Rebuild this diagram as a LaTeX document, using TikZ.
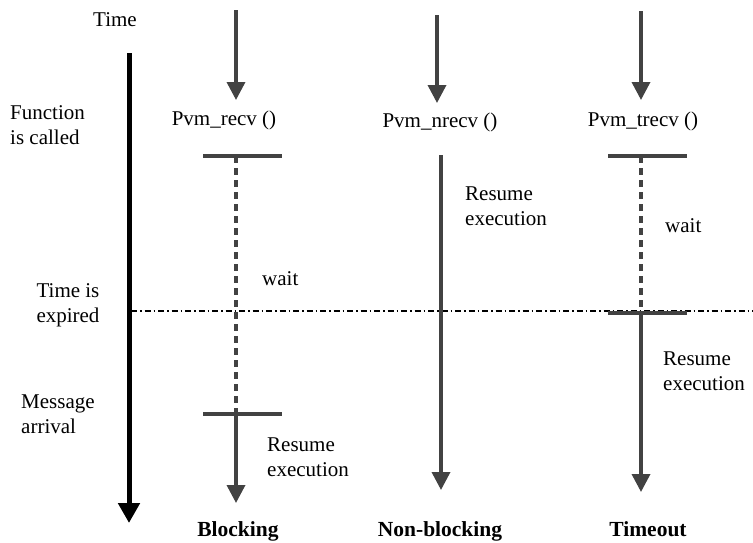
\documentclass[tikz,border=0pt]{standalone}
\usepackage{fontspec}
\setmainfont{Liberation Serif}
\usetikzlibrary{arrows.meta,positioning}
\definecolor{flowgray}{RGB}{66,66,66}

\begin{document}
\begin{tikzpicture}[
    x=1pt,
    y=-1pt,
    every node/.style={font=\fontsize{21}{25}\selectfont,inner sep=0pt},
    flow/.style={draw=flowgray,line width=3.5pt},
    flowarrow/.style={flow,-{Triangle[length=18pt,width=18pt]}},
    waitline/.style={flow,dash pattern=on 7pt off 5pt},
    gatebar/.style={flow},
    note/.style={align=left,anchor=north west},
    caption/.style={anchor=base,font=\fontsize{21.5}{25}\selectfont\bfseries}
]
  \useasboundingbox (0,0) rectangle (753,542);

  % time axis
  \node[anchor=base] (time) at (115,26) {Time};
  \coordinate (axtop) at (129,53);
  \coordinate (axbot) at (129,523);
  \draw[line width=5pt,-{Triangle[length=20pt,width=21pt]}] (axtop) -- (axbot);
  \node[note] (called) at (10,105) {Function\\is called};
  \node[align=center,anchor=north] (expired) at (68,283) {Time is\\expired};
  \node[note] (arrival) at (21,395) {Message\\arrival};

  \coordinate (limw) at (131,311);
  \coordinate (lime) at (753,311);
  \draw[line width=1.2pt,dash pattern=on 6pt off 3pt on 1.5pt off 3pt] (limw) -- (lime);

  % blocking
  \coordinate (bin) at (236,10);
  \coordinate (bintip) at (236,100);
  \draw[flowarrow] (bin) -- (bintip);
  \node[anchor=base] (bcall) at (224,125) {Pvm\_recv ()};
  \coordinate (bgo) at (236,156);
  \coordinate (bgow) at (203,156);
  \coordinate (bgoe) at (282,156);
  \coordinate (bmsg) at (236,414);
  \coordinate (bmsgw) at (203,414);
  \coordinate (bmsge) at (282,414);
  \coordinate (bend) at (236,503);
  \draw[gatebar] (bgow) -- (bgoe);
  \draw[waitline] (bgo) -- (bmsg);
  \draw[gatebar] (bmsgw) -- (bmsge);
  \draw[flowarrow] (bmsg) -- (bend);
  \node[anchor=base west] (bwait) at (262,285) {wait};
  \node[note] (bresume) at (267,438) {Resume\\execution};
  \node[caption] (blocking) at (238,536) {Blocking};

  % non-blocking
  \coordinate (nin) at (437,15);
  \coordinate (nintip) at (437,103);
  \draw[flowarrow] (nin) -- (nintip);
  \node[anchor=base] (ncall) at (440,127) {Pvm\_nrecv ()};
  \coordinate (ngo) at (441,155);
  \coordinate (nend) at (441,490);
  \draw[flowarrow] (ngo) -- (nend);
  \node[note] (nresume) at (465,187) {Resume\\execution};
  \node[caption] (nonblocking) at (440,536) {Non-blocking};

  % timeout
  \coordinate (tin) at (641,11);
  \coordinate (tintip) at (641,100);
  \draw[flowarrow] (tin) -- (tintip);
  \node[anchor=base] (tcall) at (643,126) {Pvm\_trecv ()};
  \coordinate (tgo) at (641,156);
  \coordinate (tgow) at (608,156);
  \coordinate (tgoe) at (687,156);
  \coordinate (tout) at (641,313);
  \coordinate (toutw) at (608,313);
  \coordinate (toute) at (687,313);
  \coordinate (tend) at (641,492);
  \draw[gatebar] (tgow) -- (tgoe);
  \draw[waitline] (tgo) -- (tout);
  \draw[gatebar] (toutw) -- (toute);
  \draw[flowarrow] (tout) -- (tend);
  \node[anchor=base west] (twait) at (665,232) {wait};
  \node[note] (tresume) at (663,352) {Resume\\execution};
  \node[caption] (timeout) at (648,536) {Timeout};
\end{tikzpicture}
\end{document}
